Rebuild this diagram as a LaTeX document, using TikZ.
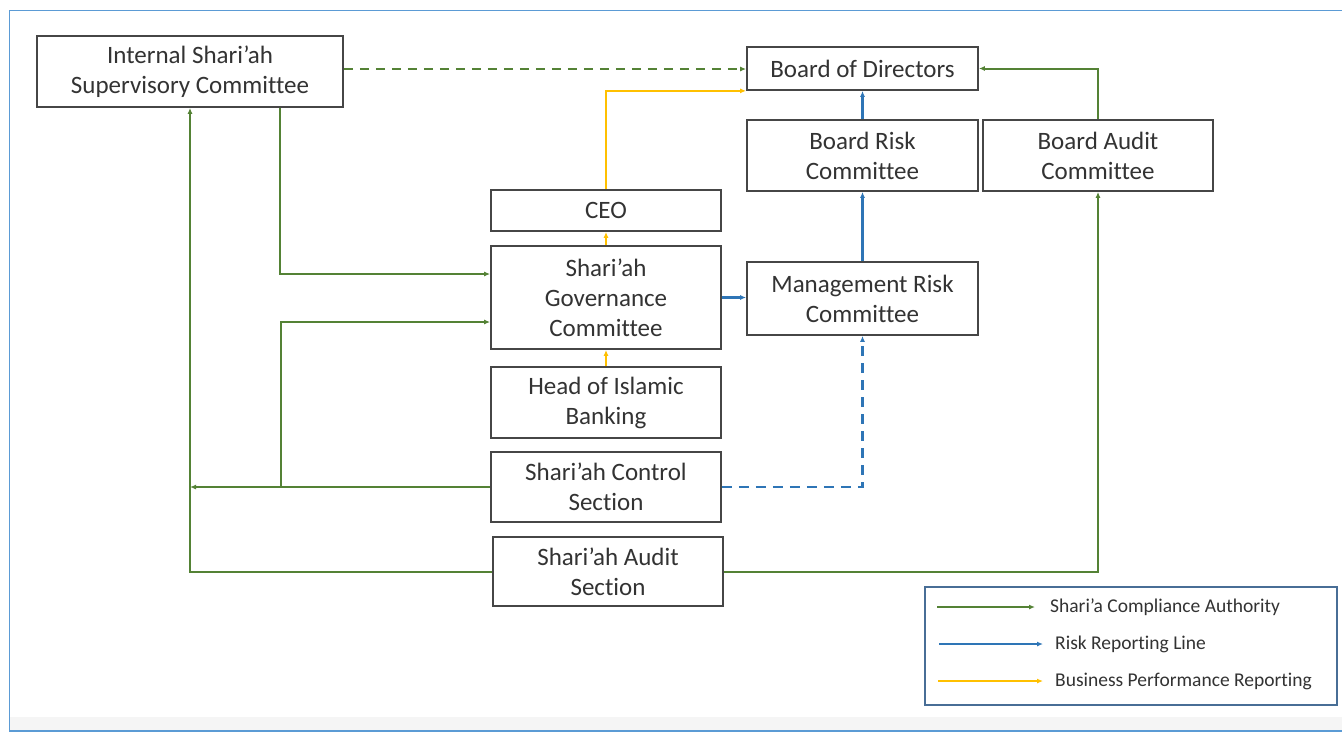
\documentclass[tikz,border=0pt]{standalone}
\usepackage{fontspec}
\setmainfont{Carlito}[Ligatures=NoCommon]
\usetikzlibrary{arrows.meta}
\definecolor{cgreen}{RGB}{84,130,53}
\definecolor{cblue}{RGB}{46,117,182}
\definecolor{cyellow}{RGB}{255,192,0}
\definecolor{cframe}{RGB}{91,155,213}
\definecolor{cbox}{RGB}{70,70,70}
\definecolor{cleg}{RGB}{72,110,150}
\begin{document}
\begin{tikzpicture}[x=1pt,y=-1pt,
  box/.style={draw=cbox,line width=1.8pt,fill=white,align=center,inner sep=0pt,
    font=\fontsize{25}{30}\selectfont,text=black!80},
  tip/.style={-{Latex[length=6pt,width=5pt]}},
  gline/.style={tip,draw=cgreen,line width=2pt},
  bline/.style={tip,draw=cblue,line width=2.4pt},
  yline/.style={tip,draw=cyellow,line width=2.4pt},
  legtext/.style={anchor=west,inner sep=0pt,font=\fontsize{19.5}{22}\selectfont,text=black!80}]
\useasboundingbox (0,0) rectangle (1342,732);
\fill[white] (0,0) rectangle (1342,732);
\fill[black!4] (10,717) rectangle (1342,730);
\draw[cframe,line width=1.8pt] (1342,10.5) -- (9.5,10.5) -- (9.5,731) -- (1342,731);

% nodes
\node[box,minimum width=306pt,minimum height=71pt] (issc) at (190,71.5) {Internal Shari’ah\\Supervisory Committee};
\node[box,minimum width=231pt,minimum height=43pt] (bod) at (862.5,68.5) {Board of Directors};
\node[box,minimum width=231pt,minimum height=71pt] (brc) at (862.5,155.5) {Board Risk\\Committee};
\node[box,minimum width=230pt,minimum height=71pt] (bac) at (1098,155.5) {Board Audit\\Committee};
\node[box,minimum width=230pt,minimum height=41pt] (ceo) at (606,210.5) {CEO};
\node[box,minimum width=230pt,minimum height=103pt] (sgc) at (606,297.5) {Shari’ah\\Governance\\Committee};
\node[box,minimum width=231pt,minimum height=73pt] (mrc) at (862.5,298.5) {Management Risk\\Committee};
\node[box,minimum width=230pt,minimum height=71pt] (hib) at (606,402.5) {Head of Islamic\\Banking};
\node[box,minimum width=230pt,minimum height=70pt] (scs) at (606,487) {Shari’ah Control\\Section};
\node[box,minimum width=230pt,minimum height=69pt] (sas) at (608,571.5) {Shari’ah Audit\\Section};

% connectors
\draw[gline,dashed,dash pattern=on 9pt off 7pt] (issc.east |- 0,69) -- (bod.west |- 0,69);
\draw[yline] (ceo.north) |- (bod.south west);
\draw[bline] (brc.north) -- (bod.south);
\draw[bline] (mrc.north) -- (brc.south);
\draw[gline] (bac.north) |- (bod.east);
\draw[gline] (issc.south -| 280,0) |- (sgc.west |- 0,274);
\draw[yline] (sgc.north) -- (ceo.south);
\draw[yline] (hib.north) -- (sgc.south);
\draw[bline] (sgc.east) -- (mrc.west |- sgc.east);
\coordinate (jn) at (281,487);
\draw[gline] (scs.west) -- (190,487);
\draw[gline] (jn) |- (sgc.west |- 0,322);
\draw[gline] (sas.west) -| (issc.south);
\draw[gline] (sas.east) -| (bac.south);
\draw[bline,dashed,dash pattern=on 10pt off 7pt] (scs.east) -| (mrc.south);

% legend
\node[draw=cleg,line width=1.4pt,minimum width=412pt,minimum height=118pt,inner sep=0pt] (leg) at (1131,646) {};
\node[legtext] (lt1) at (1050,607) {Shari’a Compliance Authority};
\node[legtext] (lt2) at (1055,644) {Risk Reporting Line};
\node[legtext] (lt3) at (1055,681) {Business Performance Reporting};
\coordinate (ls1) at (937,607); \coordinate (le1) at (1035,607);
\coordinate (ls2) at (939,644); \coordinate (le2) at (1043,644);
\coordinate (ls3) at (938,681); \coordinate (le3) at (1043,681);
\draw[gline,line width=1.6pt] (ls1) -- (le1);
\draw[bline,line width=2pt] (ls2) -- (le2);
\draw[yline,line width=2pt] (ls3) -- (le3);
\end{tikzpicture}
\end{document}
